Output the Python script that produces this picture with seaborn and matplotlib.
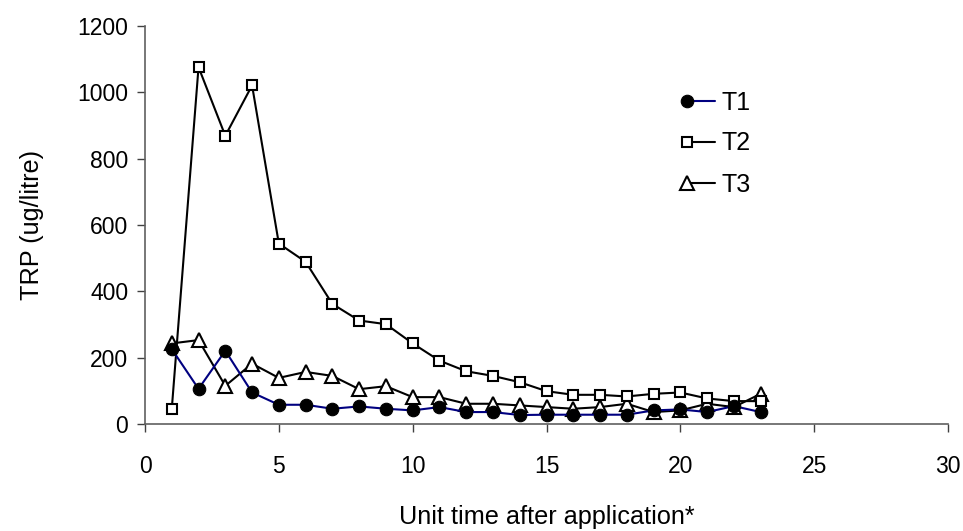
import numpy as np
import pandas as pd
import matplotlib
matplotlib.use("Agg")
import matplotlib.pyplot as plt
import seaborn as sns
from matplotlib.legend_handler import HandlerLine2D

# ---- data ----
time_units = list(range(1, 24))
t1_values = [226, 106, 221, 95, 58, 58, 46, 53, 46, 41, 51, 36, 36, 27,
             28, 28, 28, 28, 41, 44, 36, 54, 36]
t2_values = [45, 1076, 869, 1021, 544, 489, 362, 312, 301, 243, 191, 159,
             145, 126, 99, 88, 88, 83, 91, 95, 77, 69, 69]
t3_values = [243, 253, 115, 182, 139, 157, 145, 105, 114, 81, 81, 61, 61,
             56, 51, 46, 51, 61, 36, 41, 61, 51, 91]
series_names = ["T1", "T2", "T3"]
x_ticks = [0, 5, 10, 15, 20, 25, 30]
y_ticks = [0, 200, 400, 600, 800, 1000, 1200]

df = pd.DataFrame({
    "time": time_units * 3,
    "value": t1_values + t2_values + t3_values,
    "series": ["T1"] * 23 + ["T2"] * 23 + ["T3"] * 23,
})

sns.set_theme(style="white")
plt.rcParams["font.family"] = ["Liberation Sans", "DejaVu Sans"]
plt.rcParams["text.color"] = "black"
plt.rcParams["axes.labelcolor"] = "black"

fig = plt.figure(figsize=(9.63, 5.31), dpi=100)
ax = fig.add_axes([145 / 963, 1 - 424 / 531, (948 - 145) / 963, (424 - 26) / 531])

styles = {
    "T1": dict(color="#000080", marker="o", markersize=9, markerfacecolor="black",
               markeredgecolor="black", markeredgewidth=0.8),
    "T2": dict(color="black", marker="s", markersize=7.5, markerfacecolor="white",
               markeredgecolor="black", markeredgewidth=1.5),
    "T3": dict(color="black", marker="^", markersize=9.5, markerfacecolor="white",
               markeredgecolor="black", markeredgewidth=1.5),
}

for name in ["T3", "T2", "T1"]:
    sub = df[df["series"] == name]
    sns.lineplot(data=sub, x="time", y="value", ax=ax, linewidth=1.5,
                 label=name, **styles[name])

ax.set_xlim(0, 30)
ax.set_ylim(0, 1200)
ax.set_xticks(x_ticks)
ax.set_yticks(y_ticks)
ax.tick_params(axis="both", labelsize=16.5, labelcolor="black", direction="out",
               length=6, width=1, left=True, bottom=True, color="#404040")
ax.tick_params(axis="x", pad=16)
ax.tick_params(axis="y", pad=6)
for s in ["top", "right"]:
    ax.spines[s].set_visible(False)
for s in ["left", "bottom"]:
    ax.spines[s].set_color("#606060")
    ax.spines[s].set_linewidth(1.2)

ax.set_xlabel("Unit time after application*", fontsize=18.2, labelpad=20,
              color="black")
ax.set_ylabel("TRP (ug/litre)", fontsize=18.2, labelpad=24, color="black")


class LeftMarkerHandler(HandlerLine2D):
    def create_artists(self, *args, **kwargs):
        artists = super().create_artists(*args, **kwargs)
        artists[0].set_markevery([0])
        return artists


h, l = ax.get_legend_handles_labels()
order = [l.index(n) for n in series_names]
leg = ax.legend([h[i] for i in order], [l[i] for i in order],
                loc="upper left", bbox_to_anchor=(674 / 963, 1 - 78 / 531),
                bbox_transform=fig.transFigure, frameon=False, fontsize=18,
                numpoints=1, handlelength=1.15, handletextpad=0.25,
                labelspacing=0.68, borderpad=0,
                handler_map={matplotlib.lines.Line2D: LeftMarkerHandler()})

fig.savefig("out.png", dpi=100)
